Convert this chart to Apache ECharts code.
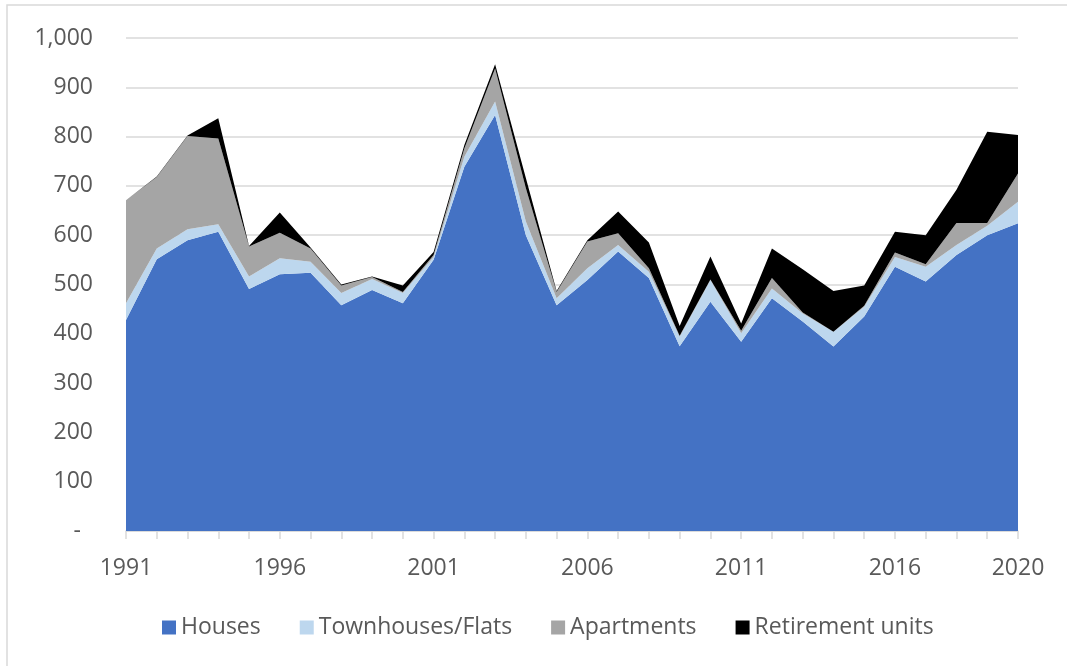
<!DOCTYPE html>
<html>
<head>
<meta charset="utf-8">
<script src="https://cdn.jsdelivr.net/npm/echarts@6/dist/echarts.min.js"></script>
<style>
html,body{margin:0;padding:0;background:#fff;}
#chart{width:1067px;height:666px;}
</style>
</head>
<body>
<div id="chart"></div>
<script>
const years = ['1991','1992','1993','1994','1995','1996','1997','1998','1999','2000','2001','2002','2003','2004','2005','2006','2007','2008','2009','2010','2011','2012','2013','2014','2015','2016','2017','2018','2019','2020'];
const houses = [428,551,590,607,491,521,524,458,489,462,550,739,844,600,458,509,567,513,375,465,384,472,425,374,435,536,506,560,600,624];
const townhouses = [34,22,22,15,25,32,22,25,22,21,6,20,27,28,14,24,13,13,19,44,17,20,16,30,20,20,30,20,19,44];
const apartments = [209,145,189,174,61,52,27,15,4,2,4,17,67,67,13,54,24,7,2,1,5,21,2,0,2,9,5,45,6,57];
const retirement = [0,1,1,41,1,41,2,2,1,13,6,7,9,21,2,3,44,52,20,47,15,60,88,83,41,42,59,67,185,78];
const seriesNames = ['Houses','Townhouses/Flats','Apartments','Retirement units'];
const seriesColors = ['#4472C4','#BDD7EE','#A5A5A5','#000000'];

const chart = echarts.init(document.getElementById('chart'));
const dataSets = [houses, townhouses, apartments, retirement];
const txt = '#595959';
const fontFamily = '"Open Sans", sans-serif';

chart.setOption({
  animation: false,
  backgroundColor: '#ffffff',
  textStyle: {fontFamily: fontFamily},
  graphic: [{
    type: 'rect',
    shape: {x: 7, y: 5, width: 1080, height: 680},
    style: {fill: 'none', stroke: '#d9d9d9', lineWidth: 1.5},
    silent: true
  }],
  grid: {left: 126, right: 49, top: 38, bottom: 135},
  legend: {
    left: 157,
    top: 611,
    icon: 'rect',
    itemWidth: 14,
    itemHeight: 14,
    itemGap: 39,
    textStyle: {fontSize: 23, color: txt, fontFamily: fontFamily},
    data: seriesNames
  },
  xAxis: {
    type: 'category',
    data: years,
    boundaryGap: false,
    axisLine: {lineStyle: {color: '#d9d9d9', width: 1.5}},
    axisTick: {show: true, length: 8, interval: 0, lineStyle: {color: '#d9d9d9', width: 1.5}},
    axisLabel: {
      interval: function (i) { return i % 5 === 0 || i === years.length - 1; },
      hideOverlap: false,
      fontSize: 23,
      color: txt,
      margin: 26,
      fontFamily: fontFamily
    },
    splitLine: {show: false}
  },
  yAxis: {
    type: 'value',
    min: 0,
    max: 1000,
    interval: 100,
    axisLine: {show: false},
    axisTick: {show: false},
    axisLabel: {
      fontSize: 23,
      color: txt,
      margin: 33,
      fontFamily: fontFamily,
      formatter: function (v) { return v === 0 ? '{d|-}' : v.toLocaleString('en-US'); },
      rich: {d: {fontSize: 23, color: txt, fontFamily: fontFamily, padding: [0, 12, 0, 0]}}
    },
    splitLine: {lineStyle: {color: '#d9d9d9', width: 1.5}}
  },
  series: dataSets.map(function (d, i) {
    return {
      name: seriesNames[i],
      type: 'line',
      stack: 'total',
      data: d,
      symbol: 'none',
      lineStyle: {width: 0},
      itemStyle: {color: seriesColors[i]},
      areaStyle: {color: seriesColors[i], opacity: 1},
      z: 2
    };
  })
});
</script>
</body>
</html>
